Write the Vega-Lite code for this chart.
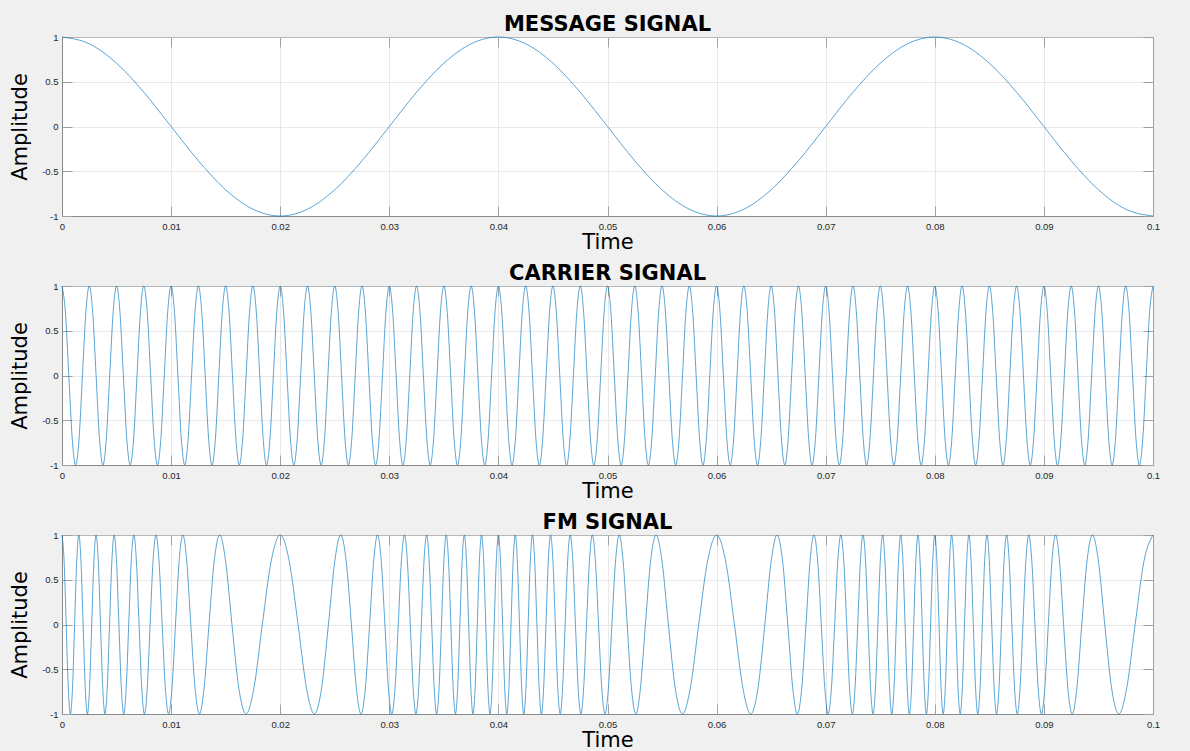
{
"$schema": "https://vega.github.io/schema/vega-lite/v6.json",
"autosize": {"type": "none"},
"padding": {"left": 62, "top": 37, "right": 1128, "bottom": 714},
"background": "#f0f0f0",
"spacing": 70,
"bounds": "flush",
"config": {
  "view": {"stroke": null, "fill": "#ffffff"},
  "axis": {"labelFont": "Liberation Sans", "labelFontSize": 9.5, "labelColor": "#262626", "labelFlush": false, "labelOverlap": false, "labelExpr": "'' + datum.value", "tickSize": -10, "tickColor": "#a0a0a0", "tickWidth": 1, "domainColor": "#8a8a8a", "domainWidth": 1, "gridColor": "#e8e8e8", "gridWidth": 1, "titleFont": "DejaVu Sans", "titleFontSize": 21, "titleFontWeight": "normal", "titleColor": "#000000"},
  "title": {"font": "DejaVu Sans", "fontSize": 21, "fontWeight": "bold", "color": "#000000", "anchor": "middle", "frame": "group", "baseline": "alphabetic", "offset": -2.5}
},
"datasets": {
"message": [
{"t":0,"y":1},{"t":0.0025,"y":0.9239},{"t":0.005,"y":0.7071},{"t":0.0075,"y":0.3827},{"t":0.01,"y":0},{"t":0.0125,"y":-0.3827},{"t":0.015,"y":-0.7071},{"t":0.0175,"y":-0.9239},
{"t":0.02,"y":-1},{"t":0.0225,"y":-0.9239},{"t":0.025,"y":-0.7071},{"t":0.0275,"y":-0.3827},{"t":0.03,"y":0},{"t":0.0325,"y":0.3827},{"t":0.035,"y":0.7071},{"t":0.0375,"y":0.9239},
{"t":0.04,"y":1},{"t":0.0425,"y":0.9239},{"t":0.045,"y":0.7071},{"t":0.0475,"y":0.3827},{"t":0.05,"y":0},{"t":0.0525,"y":-0.3827},{"t":0.055,"y":-0.7071},{"t":0.0575,"y":-0.9239},
{"t":0.06,"y":-1},{"t":0.0625,"y":-0.9239},{"t":0.065,"y":-0.7071},{"t":0.0675,"y":-0.3827},{"t":0.07,"y":0},{"t":0.0725,"y":0.3827},{"t":0.075,"y":0.7071},{"t":0.0775,"y":0.9239},
{"t":0.08,"y":1},{"t":0.0825,"y":0.9239},{"t":0.085,"y":0.7071},{"t":0.0875,"y":0.3827},{"t":0.09,"y":0},{"t":0.0925,"y":-0.3827},{"t":0.095,"y":-0.7071},{"t":0.0975,"y":-0.9239},
{"t":0.1,"y":-1}
],
"carrier": [
{"t":0,"y":1},{"t":0.0003125,"y":0.7071},{"t":0.000625,"y":0},{"t":0.0009375,"y":-0.7071},{"t":0.00125,"y":-1},{"t":0.0015625,"y":-0.7071},{"t":0.001875,"y":0},{"t":0.0021875,"y":0.7071},
{"t":0.0025,"y":1},{"t":0.0028125,"y":0.7071},{"t":0.003125,"y":0},{"t":0.0034375,"y":-0.7071},{"t":0.00375,"y":-1},{"t":0.0040625,"y":-0.7071},{"t":0.004375,"y":0},{"t":0.0046875,"y":0.7071},
{"t":0.005,"y":1},{"t":0.0053125,"y":0.7071},{"t":0.005625,"y":0},{"t":0.0059375,"y":-0.7071},{"t":0.00625,"y":-1},{"t":0.0065625,"y":-0.7071},{"t":0.006875,"y":0},{"t":0.0071875,"y":0.7071},
{"t":0.0075,"y":1},{"t":0.0078125,"y":0.7071},{"t":0.008125,"y":0},{"t":0.0084375,"y":-0.7071},{"t":0.00875,"y":-1},{"t":0.0090625,"y":-0.7071},{"t":0.009375,"y":0},{"t":0.0096875,"y":0.7071},
{"t":0.01,"y":1},{"t":0.0103125,"y":0.7071},{"t":0.010625,"y":0},{"t":0.0109375,"y":-0.7071},{"t":0.01125,"y":-1},{"t":0.0115625,"y":-0.7071},{"t":0.011875,"y":0},{"t":0.0121875,"y":0.7071},
{"t":0.0125,"y":1},{"t":0.0128125,"y":0.7071},{"t":0.013125,"y":0},{"t":0.0134375,"y":-0.7071},{"t":0.01375,"y":-1},{"t":0.0140625,"y":-0.7071},{"t":0.014375,"y":0},{"t":0.0146875,"y":0.7071},
{"t":0.015,"y":1},{"t":0.0153125,"y":0.7071},{"t":0.015625,"y":0},{"t":0.0159375,"y":-0.7071},{"t":0.01625,"y":-1},{"t":0.0165625,"y":-0.7071},{"t":0.016875,"y":0},{"t":0.0171875,"y":0.7071},
{"t":0.0175,"y":1},{"t":0.0178125,"y":0.7071},{"t":0.018125,"y":0},{"t":0.0184375,"y":-0.7071},{"t":0.01875,"y":-1},{"t":0.0190625,"y":-0.7071},{"t":0.019375,"y":0},{"t":0.0196875,"y":0.7071},
{"t":0.02,"y":1},{"t":0.0203125,"y":0.7071},{"t":0.020625,"y":0},{"t":0.0209375,"y":-0.7071},{"t":0.02125,"y":-1},{"t":0.0215625,"y":-0.7071},{"t":0.021875,"y":0},{"t":0.0221875,"y":0.7071},
{"t":0.0225,"y":1},{"t":0.0228125,"y":0.7071},{"t":0.023125,"y":0},{"t":0.0234375,"y":-0.7071},{"t":0.02375,"y":-1},{"t":0.0240625,"y":-0.7071},{"t":0.024375,"y":0},{"t":0.0246875,"y":0.7071},
{"t":0.025,"y":1},{"t":0.0253125,"y":0.7071},{"t":0.025625,"y":0},{"t":0.0259375,"y":-0.7071},{"t":0.02625,"y":-1},{"t":0.0265625,"y":-0.7071},{"t":0.026875,"y":0},{"t":0.0271875,"y":0.7071},
{"t":0.0275,"y":1},{"t":0.0278125,"y":0.7071},{"t":0.028125,"y":0},{"t":0.0284375,"y":-0.7071},{"t":0.02875,"y":-1},{"t":0.0290625,"y":-0.7071},{"t":0.029375,"y":0},{"t":0.0296875,"y":0.7071},
{"t":0.03,"y":1},{"t":0.0303125,"y":0.7071},{"t":0.030625,"y":0},{"t":0.0309375,"y":-0.7071},{"t":0.03125,"y":-1},{"t":0.0315625,"y":-0.7071},{"t":0.031875,"y":0},{"t":0.0321875,"y":0.7071},
{"t":0.0325,"y":1},{"t":0.0328125,"y":0.7071},{"t":0.033125,"y":0},{"t":0.0334375,"y":-0.7071},{"t":0.03375,"y":-1},{"t":0.0340625,"y":-0.7071},{"t":0.034375,"y":0},{"t":0.0346875,"y":0.7071},
{"t":0.035,"y":1},{"t":0.0353125,"y":0.7071},{"t":0.035625,"y":0},{"t":0.0359375,"y":-0.7071},{"t":0.03625,"y":-1},{"t":0.0365625,"y":-0.7071},{"t":0.036875,"y":0},{"t":0.0371875,"y":0.7071},
{"t":0.0375,"y":1},{"t":0.0378125,"y":0.7071},{"t":0.038125,"y":0},{"t":0.0384375,"y":-0.7071},{"t":0.03875,"y":-1},{"t":0.0390625,"y":-0.7071},{"t":0.039375,"y":0},{"t":0.0396875,"y":0.7071},
{"t":0.04,"y":1},{"t":0.0403125,"y":0.7071},{"t":0.040625,"y":0},{"t":0.0409375,"y":-0.7071},{"t":0.04125,"y":-1},{"t":0.0415625,"y":-0.7071},{"t":0.041875,"y":0},{"t":0.0421875,"y":0.7071},
{"t":0.0425,"y":1},{"t":0.0428125,"y":0.7071},{"t":0.043125,"y":0},{"t":0.0434375,"y":-0.7071},{"t":0.04375,"y":-1},{"t":0.0440625,"y":-0.7071},{"t":0.044375,"y":0},{"t":0.0446875,"y":0.7071},
{"t":0.045,"y":1},{"t":0.0453125,"y":0.7071},{"t":0.045625,"y":0},{"t":0.0459375,"y":-0.7071},{"t":0.04625,"y":-1},{"t":0.0465625,"y":-0.7071},{"t":0.046875,"y":0},{"t":0.0471875,"y":0.7071},
{"t":0.0475,"y":1},{"t":0.0478125,"y":0.7071},{"t":0.048125,"y":0},{"t":0.0484375,"y":-0.7071},{"t":0.04875,"y":-1},{"t":0.0490625,"y":-0.7071},{"t":0.049375,"y":0},{"t":0.0496875,"y":0.7071},
{"t":0.05,"y":1},{"t":0.0503125,"y":0.7071},{"t":0.050625,"y":0},{"t":0.0509375,"y":-0.7071},{"t":0.05125,"y":-1},{"t":0.0515625,"y":-0.7071},{"t":0.051875,"y":0},{"t":0.0521875,"y":0.7071},
{"t":0.0525,"y":1},{"t":0.0528125,"y":0.7071},{"t":0.053125,"y":0},{"t":0.0534375,"y":-0.7071},{"t":0.05375,"y":-1},{"t":0.0540625,"y":-0.7071},{"t":0.054375,"y":0},{"t":0.0546875,"y":0.7071},
{"t":0.055,"y":1},{"t":0.0553125,"y":0.7071},{"t":0.055625,"y":0},{"t":0.0559375,"y":-0.7071},{"t":0.05625,"y":-1},{"t":0.0565625,"y":-0.7071},{"t":0.056875,"y":0},{"t":0.0571875,"y":0.7071},
{"t":0.0575,"y":1},{"t":0.0578125,"y":0.7071},{"t":0.058125,"y":0},{"t":0.0584375,"y":-0.7071},{"t":0.05875,"y":-1},{"t":0.0590625,"y":-0.7071},{"t":0.059375,"y":0},{"t":0.0596875,"y":0.7071},
{"t":0.06,"y":1},{"t":0.0603125,"y":0.7071},{"t":0.060625,"y":0},{"t":0.0609375,"y":-0.7071},{"t":0.06125,"y":-1},{"t":0.0615625,"y":-0.7071},{"t":0.061875,"y":0},{"t":0.0621875,"y":0.7071},
{"t":0.0625,"y":1},{"t":0.0628125,"y":0.7071},{"t":0.063125,"y":0},{"t":0.0634375,"y":-0.7071},{"t":0.06375,"y":-1},{"t":0.0640625,"y":-0.7071},{"t":0.064375,"y":0},{"t":0.0646875,"y":0.7071},
{"t":0.065,"y":1},{"t":0.0653125,"y":0.7071},{"t":0.065625,"y":0},{"t":0.0659375,"y":-0.7071},{"t":0.06625,"y":-1},{"t":0.0665625,"y":-0.7071},{"t":0.066875,"y":0},{"t":0.0671875,"y":0.7071},
{"t":0.0675,"y":1},{"t":0.0678125,"y":0.7071},{"t":0.068125,"y":0},{"t":0.0684375,"y":-0.7071},{"t":0.06875,"y":-1},{"t":0.0690625,"y":-0.7071},{"t":0.069375,"y":0},{"t":0.0696875,"y":0.7071},
{"t":0.07,"y":1},{"t":0.0703125,"y":0.7071},{"t":0.070625,"y":0},{"t":0.0709375,"y":-0.7071},{"t":0.07125,"y":-1},{"t":0.0715625,"y":-0.7071},{"t":0.071875,"y":0},{"t":0.0721875,"y":0.7071},
{"t":0.0725,"y":1},{"t":0.0728125,"y":0.7071},{"t":0.073125,"y":0},{"t":0.0734375,"y":-0.7071},{"t":0.07375,"y":-1},{"t":0.0740625,"y":-0.7071},{"t":0.074375,"y":0},{"t":0.0746875,"y":0.7071},
{"t":0.075,"y":1},{"t":0.0753125,"y":0.7071},{"t":0.075625,"y":0},{"t":0.0759375,"y":-0.7071},{"t":0.07625,"y":-1},{"t":0.0765625,"y":-0.7071},{"t":0.076875,"y":0},{"t":0.0771875,"y":0.7071},
{"t":0.0775,"y":1},{"t":0.0778125,"y":0.7071},{"t":0.078125,"y":0},{"t":0.0784375,"y":-0.7071},{"t":0.07875,"y":-1},{"t":0.0790625,"y":-0.7071},{"t":0.079375,"y":0},{"t":0.0796875,"y":0.7071},
{"t":0.08,"y":1},{"t":0.0803125,"y":0.7071},{"t":0.080625,"y":0},{"t":0.0809375,"y":-0.7071},{"t":0.08125,"y":-1},{"t":0.0815625,"y":-0.7071},{"t":0.081875,"y":0},{"t":0.0821875,"y":0.7071},
{"t":0.0825,"y":1},{"t":0.0828125,"y":0.7071},{"t":0.083125,"y":0},{"t":0.0834375,"y":-0.7071},{"t":0.08375,"y":-1},{"t":0.0840625,"y":-0.7071},{"t":0.084375,"y":0},{"t":0.0846875,"y":0.7071},
{"t":0.085,"y":1},{"t":0.0853125,"y":0.7071},{"t":0.085625,"y":0},{"t":0.0859375,"y":-0.7071},{"t":0.08625,"y":-1},{"t":0.0865625,"y":-0.7071},{"t":0.086875,"y":0},{"t":0.0871875,"y":0.7071},
{"t":0.0875,"y":1},{"t":0.0878125,"y":0.7071},{"t":0.088125,"y":0},{"t":0.0884375,"y":-0.7071},{"t":0.08875,"y":-1},{"t":0.0890625,"y":-0.7071},{"t":0.089375,"y":0},{"t":0.0896875,"y":0.7071},
{"t":0.09,"y":1},{"t":0.0903125,"y":0.7071},{"t":0.090625,"y":0},{"t":0.0909375,"y":-0.7071},{"t":0.09125,"y":-1},{"t":0.0915625,"y":-0.7071},{"t":0.091875,"y":0},{"t":0.0921875,"y":0.7071},
{"t":0.0925,"y":1},{"t":0.0928125,"y":0.7071},{"t":0.093125,"y":0},{"t":0.0934375,"y":-0.7071},{"t":0.09375,"y":-1},{"t":0.0940625,"y":-0.7071},{"t":0.094375,"y":0},{"t":0.0946875,"y":0.7071},
{"t":0.095,"y":1},{"t":0.0953125,"y":0.7071},{"t":0.095625,"y":0},{"t":0.0959375,"y":-0.7071},{"t":0.09625,"y":-1},{"t":0.0965625,"y":-0.7071},{"t":0.096875,"y":0},{"t":0.0971875,"y":0.7071},
{"t":0.0975,"y":1},{"t":0.0978125,"y":0.7071},{"t":0.098125,"y":0},{"t":0.0984375,"y":-0.7071},{"t":0.09875,"y":-1},{"t":0.0990625,"y":-0.7071},{"t":0.099375,"y":0},{"t":0.0996875,"y":0.7071},
{"t":0.1,"y":1}
],
"fm": [
{"t":0,"y":1},{"t":0.000192,"y":0.7071},{"t":0.000385,"y":0},{"t":0.000577,"y":-0.7071},{"t":0.00077,"y":-1},{"t":0.000963,"y":-0.7071},{"t":0.001156,"y":0},{"t":0.00135,"y":0.7071},
{"t":0.001544,"y":1},{"t":0.001739,"y":0.7071},{"t":0.001935,"y":0},{"t":0.002131,"y":-0.7071},{"t":0.002328,"y":-1},{"t":0.002525,"y":-0.7071},{"t":0.002724,"y":0},{"t":0.002924,"y":0.7071},
{"t":0.003125,"y":1},{"t":0.003327,"y":0.7071},{"t":0.00353,"y":0},{"t":0.003735,"y":-0.7071},{"t":0.003941,"y":-1},{"t":0.004149,"y":-0.7071},{"t":0.004359,"y":0},{"t":0.00457,"y":0.7071},
{"t":0.004784,"y":1},{"t":0.004999,"y":0.7071},{"t":0.005217,"y":0},{"t":0.005438,"y":-0.7071},{"t":0.00566,"y":-1},{"t":0.005886,"y":-0.7071},{"t":0.006115,"y":0},{"t":0.006346,"y":0.7071},
{"t":0.006581,"y":1},{"t":0.00682,"y":0.7071},{"t":0.007062,"y":0},{"t":0.007309,"y":-0.7071},{"t":0.00756,"y":-1},{"t":0.007816,"y":-0.7071},{"t":0.008076,"y":0},{"t":0.008343,"y":0.7071},
{"t":0.008615,"y":1},{"t":0.008894,"y":0.7071},{"t":0.009179,"y":0},{"t":0.009472,"y":-0.7071},{"t":0.009774,"y":-1},{"t":0.010084,"y":-0.7071},{"t":0.010404,"y":0},{"t":0.010735,"y":0.7071},
{"t":0.011078,"y":1},{"t":0.011434,"y":0.7071},{"t":0.011805,"y":0},{"t":0.012192,"y":-0.7071},{"t":0.012598,"y":-1},{"t":0.013024,"y":-0.7071},{"t":0.013474,"y":0},{"t":0.01395,"y":0.7071},
{"t":0.014457,"y":1},{"t":0.014998,"y":0.7071},{"t":0.015578,"y":0},{"t":0.016202,"y":-0.7071},{"t":0.016874,"y":-1},{"t":0.017595,"y":-0.7071},{"t":0.018363,"y":0},{"t":0.019171,"y":0.7071},
{"t":0.02,"y":1},
{"t":0.020829,"y":0.7071},{"t":0.021637,"y":0},{"t":0.022405,"y":-0.7071},{"t":0.023126,"y":-1},{"t":0.023798,"y":-0.7071},{"t":0.024422,"y":0},{"t":0.025002,"y":0.7071},{"t":0.025543,"y":1},
{"t":0.02605,"y":0.7071},{"t":0.026526,"y":0},{"t":0.026976,"y":-0.7071},{"t":0.027402,"y":-1},{"t":0.027808,"y":-0.7071},{"t":0.028195,"y":0},{"t":0.028566,"y":0.7071},{"t":0.028922,"y":1},
{"t":0.029265,"y":0.7071},{"t":0.029596,"y":0},{"t":0.029916,"y":-0.7071},{"t":0.030226,"y":-1},{"t":0.030528,"y":-0.7071},{"t":0.030821,"y":0},{"t":0.031106,"y":0.7071},{"t":0.031385,"y":1},
{"t":0.031657,"y":0.7071},{"t":0.031924,"y":0},{"t":0.032184,"y":-0.7071},{"t":0.03244,"y":-1},{"t":0.032691,"y":-0.7071},{"t":0.032938,"y":0},{"t":0.03318,"y":0.7071},{"t":0.033419,"y":1},
{"t":0.033654,"y":0.7071},{"t":0.033885,"y":0},{"t":0.034114,"y":-0.7071},{"t":0.03434,"y":-1},{"t":0.034562,"y":-0.7071},{"t":0.034783,"y":0},{"t":0.035001,"y":0.7071},{"t":0.035216,"y":1},
{"t":0.03543,"y":0.7071},{"t":0.035641,"y":0},{"t":0.035851,"y":-0.7071},{"t":0.036059,"y":-1},{"t":0.036265,"y":-0.7071},{"t":0.03647,"y":0},{"t":0.036673,"y":0.7071},{"t":0.036875,"y":1},
{"t":0.037076,"y":0.7071},{"t":0.037276,"y":0},{"t":0.037475,"y":-0.7071},{"t":0.037672,"y":-1},{"t":0.037869,"y":-0.7071},{"t":0.038065,"y":0},{"t":0.038261,"y":0.7071},{"t":0.038456,"y":1},
{"t":0.03865,"y":0.7071},{"t":0.038844,"y":0},{"t":0.039037,"y":-0.7071},{"t":0.03923,"y":-1},{"t":0.039423,"y":-0.7071},{"t":0.039615,"y":0},{"t":0.039808,"y":0.7071},{"t":0.04,"y":1},
{"t":0.040192,"y":0.7071},{"t":0.040385,"y":0},{"t":0.040577,"y":-0.7071},{"t":0.04077,"y":-1},{"t":0.040963,"y":-0.7071},{"t":0.041156,"y":0},{"t":0.04135,"y":0.7071},
{"t":0.041544,"y":1},{"t":0.041739,"y":0.7071},{"t":0.041935,"y":0},{"t":0.042131,"y":-0.7071},{"t":0.042328,"y":-1},{"t":0.042525,"y":-0.7071},{"t":0.042724,"y":0},{"t":0.042924,"y":0.7071},
{"t":0.043125,"y":1},{"t":0.043327,"y":0.7071},{"t":0.04353,"y":0},{"t":0.043735,"y":-0.7071},{"t":0.043941,"y":-1},{"t":0.044149,"y":-0.7071},{"t":0.044359,"y":0},{"t":0.04457,"y":0.7071},
{"t":0.044784,"y":1},{"t":0.044999,"y":0.7071},{"t":0.045217,"y":0},{"t":0.045438,"y":-0.7071},{"t":0.04566,"y":-1},{"t":0.045886,"y":-0.7071},{"t":0.046115,"y":0},{"t":0.046346,"y":0.7071},
{"t":0.046581,"y":1},{"t":0.04682,"y":0.7071},{"t":0.047062,"y":0},{"t":0.047309,"y":-0.7071},{"t":0.04756,"y":-1},{"t":0.047816,"y":-0.7071},{"t":0.048076,"y":0},{"t":0.048343,"y":0.7071},
{"t":0.048615,"y":1},{"t":0.048894,"y":0.7071},{"t":0.049179,"y":0},{"t":0.049472,"y":-0.7071},{"t":0.049774,"y":-1},{"t":0.050084,"y":-0.7071},{"t":0.050404,"y":0},{"t":0.050735,"y":0.7071},
{"t":0.051078,"y":1},{"t":0.051434,"y":0.7071},{"t":0.051805,"y":0},{"t":0.052192,"y":-0.7071},{"t":0.052598,"y":-1},{"t":0.053024,"y":-0.7071},{"t":0.053474,"y":0},{"t":0.05395,"y":0.7071},
{"t":0.054457,"y":1},{"t":0.054998,"y":0.7071},{"t":0.055578,"y":0},{"t":0.056202,"y":-0.7071},{"t":0.056874,"y":-1},{"t":0.057595,"y":-0.7071},{"t":0.058363,"y":0},{"t":0.059171,"y":0.7071},
{"t":0.06,"y":1},
{"t":0.060829,"y":0.7071},{"t":0.061637,"y":0},{"t":0.062405,"y":-0.7071},{"t":0.063126,"y":-1},{"t":0.063798,"y":-0.7071},{"t":0.064422,"y":0},{"t":0.065002,"y":0.7071},{"t":0.065543,"y":1},
{"t":0.06605,"y":0.7071},{"t":0.066526,"y":0},{"t":0.066976,"y":-0.7071},{"t":0.067402,"y":-1},{"t":0.067808,"y":-0.7071},{"t":0.068195,"y":0},{"t":0.068566,"y":0.7071},{"t":0.068922,"y":1},
{"t":0.069265,"y":0.7071},{"t":0.069596,"y":0},{"t":0.069916,"y":-0.7071},{"t":0.070226,"y":-1},{"t":0.070528,"y":-0.7071},{"t":0.070821,"y":0},{"t":0.071106,"y":0.7071},{"t":0.071385,"y":1},
{"t":0.071657,"y":0.7071},{"t":0.071924,"y":0},{"t":0.072184,"y":-0.7071},{"t":0.07244,"y":-1},{"t":0.072691,"y":-0.7071},{"t":0.072938,"y":0},{"t":0.07318,"y":0.7071},{"t":0.073419,"y":1},
{"t":0.073654,"y":0.7071},{"t":0.073885,"y":0},{"t":0.074114,"y":-0.7071},{"t":0.07434,"y":-1},{"t":0.074562,"y":-0.7071},{"t":0.074783,"y":0},{"t":0.075001,"y":0.7071},{"t":0.075216,"y":1},
{"t":0.07543,"y":0.7071},{"t":0.075641,"y":0},{"t":0.075851,"y":-0.7071},{"t":0.076059,"y":-1},{"t":0.076265,"y":-0.7071},{"t":0.07647,"y":0},{"t":0.076673,"y":0.7071},{"t":0.076875,"y":1},
{"t":0.077076,"y":0.7071},{"t":0.077276,"y":0},{"t":0.077475,"y":-0.7071},{"t":0.077672,"y":-1},{"t":0.077869,"y":-0.7071},{"t":0.078065,"y":0},{"t":0.078261,"y":0.7071},{"t":0.078456,"y":1},
{"t":0.07865,"y":0.7071},{"t":0.078844,"y":0},{"t":0.079037,"y":-0.7071},{"t":0.07923,"y":-1},{"t":0.079423,"y":-0.7071},{"t":0.079615,"y":0},{"t":0.079808,"y":0.7071},{"t":0.08,"y":1},
{"t":0.080192,"y":0.7071},{"t":0.080385,"y":0},{"t":0.080577,"y":-0.7071},{"t":0.08077,"y":-1},{"t":0.080963,"y":-0.7071},{"t":0.081156,"y":0},{"t":0.08135,"y":0.7071},
{"t":0.081544,"y":1},{"t":0.081739,"y":0.7071},{"t":0.081935,"y":0},{"t":0.082131,"y":-0.7071},{"t":0.082328,"y":-1},{"t":0.082525,"y":-0.7071},{"t":0.082724,"y":0},{"t":0.082924,"y":0.7071},
{"t":0.083125,"y":1},{"t":0.083327,"y":0.7071},{"t":0.08353,"y":0},{"t":0.083735,"y":-0.7071},{"t":0.083941,"y":-1},{"t":0.084149,"y":-0.7071},{"t":0.084359,"y":0},{"t":0.08457,"y":0.7071},
{"t":0.084784,"y":1},{"t":0.084999,"y":0.7071},{"t":0.085217,"y":0},{"t":0.085438,"y":-0.7071},{"t":0.08566,"y":-1},{"t":0.085886,"y":-0.7071},{"t":0.086115,"y":0},{"t":0.086346,"y":0.7071},
{"t":0.086581,"y":1},{"t":0.08682,"y":0.7071},{"t":0.087062,"y":0},{"t":0.087309,"y":-0.7071},{"t":0.08756,"y":-1},{"t":0.087816,"y":-0.7071},{"t":0.088076,"y":0},{"t":0.088343,"y":0.7071},
{"t":0.088615,"y":1},{"t":0.088894,"y":0.7071},{"t":0.089179,"y":0},{"t":0.089472,"y":-0.7071},{"t":0.089774,"y":-1},{"t":0.090084,"y":-0.7071},{"t":0.090404,"y":0},{"t":0.090735,"y":0.7071},
{"t":0.091078,"y":1},{"t":0.091434,"y":0.7071},{"t":0.091805,"y":0},{"t":0.092192,"y":-0.7071},{"t":0.092598,"y":-1},{"t":0.093024,"y":-0.7071},{"t":0.093474,"y":0},{"t":0.09395,"y":0.7071},
{"t":0.094457,"y":1},{"t":0.094998,"y":0.7071},{"t":0.095578,"y":0},{"t":0.096202,"y":-0.7071},{"t":0.096874,"y":-1},{"t":0.097595,"y":-0.7071},{"t":0.098363,"y":0},{"t":0.099171,"y":0.7071},
{"t":0.1,"y":1}
]
},
"vconcat": [
{
  "width": 1091, "height": 179,
  "title": {"text": "MESSAGE SIGNAL"},
  "data": {"name": "message"},
  "layer": [
    {"mark": {"type": "line", "color": "#0072BD", "strokeWidth": 0.65, "interpolate": "monotone"},
     "encoding": {
       "x": {"field": "t", "type": "quantitative", "scale": {"domain": [0, 0.1], "nice": false, "zero": false},
             "axis": {"orient": "bottom", "values": [0,0.01,0.02,0.03,0.04,0.05,0.06,0.07,0.08,0.09,0.1], "grid": true, "labelBaseline": "alphabetic", "labelPadding": 23.5, "title": "Time", "titleY": 32.5, "titleBaseline": "alphabetic"}},
       "y": {"field": "y", "type": "quantitative", "scale": {"domain": [-1, 1], "nice": false, "zero": false},
             "axis": {"orient": "left", "values": [-1,-0.5,0,0.5,1], "grid": true, "labelBaseline": "middle", "labelAlign": "right", "labelPadding": 14, "title": "Amplitude", "titleX": -36, "titleY": 89.5, "titleAngle": 270, "titleAlign": "center", "titleBaseline": "alphabetic"}}
     }},
    {"mark": {"type": "line", "opacity": 0},
     "encoding": {
       "x": {"field": "t", "type": "quantitative", "scale": {"domain": [0, 0.1], "nice": false, "zero": false},
             "axis": {"orient": "top", "values": [0,0.01,0.02,0.03,0.04,0.05,0.06,0.07,0.08,0.09,0.1], "grid": false, "labels": false, "title": null, "domainColor": "#b8b8b8"}},
       "y": {"field": "y", "type": "quantitative", "scale": {"domain": [-1, 1], "nice": false, "zero": false},
             "axis": {"orient": "right", "values": [-1,-0.5,0,0.5,1], "grid": false, "labels": false, "title": null, "domainColor": "#a0a0a0"}}
     }}
  ]
},
{
  "width": 1091, "height": 179,
  "title": {"text": "CARRIER SIGNAL"},
  "data": {"name": "carrier"},
  "layer": [
    {"mark": {"type": "line", "color": "#0072BD", "strokeWidth": 0.65, "interpolate": "monotone"},
     "encoding": {
       "x": {"field": "t", "type": "quantitative", "scale": {"domain": [0, 0.1], "nice": false, "zero": false},
             "axis": {"orient": "bottom", "values": [0,0.01,0.02,0.03,0.04,0.05,0.06,0.07,0.08,0.09,0.1], "grid": true, "labelBaseline": "alphabetic", "labelPadding": 23.5, "title": "Time", "titleY": 32.5, "titleBaseline": "alphabetic"}},
       "y": {"field": "y", "type": "quantitative", "scale": {"domain": [-1, 1], "nice": false, "zero": false},
             "axis": {"orient": "left", "values": [-1,-0.5,0,0.5,1], "grid": true, "labelBaseline": "middle", "labelAlign": "right", "labelPadding": 14, "title": "Amplitude", "titleX": -36, "titleY": 89.5, "titleAngle": 270, "titleAlign": "center", "titleBaseline": "alphabetic"}}
     }},
    {"mark": {"type": "line", "opacity": 0},
     "encoding": {
       "x": {"field": "t", "type": "quantitative", "scale": {"domain": [0, 0.1], "nice": false, "zero": false},
             "axis": {"orient": "top", "values": [0,0.01,0.02,0.03,0.04,0.05,0.06,0.07,0.08,0.09,0.1], "grid": false, "labels": false, "title": null, "domainColor": "#b8b8b8"}},
       "y": {"field": "y", "type": "quantitative", "scale": {"domain": [-1, 1], "nice": false, "zero": false},
             "axis": {"orient": "right", "values": [-1,-0.5,0,0.5,1], "grid": false, "labels": false, "title": null, "domainColor": "#a0a0a0"}}
     }}
  ]
},
{
  "width": 1091, "height": 179,
  "title": {"text": "FM SIGNAL"},
  "data": {"name": "fm"},
  "layer": [
    {"mark": {"type": "line", "color": "#0072BD", "strokeWidth": 0.65, "interpolate": "monotone"},
     "encoding": {
       "x": {"field": "t", "type": "quantitative", "scale": {"domain": [0, 0.1], "nice": false, "zero": false},
             "axis": {"orient": "bottom", "values": [0,0.01,0.02,0.03,0.04,0.05,0.06,0.07,0.08,0.09,0.1], "grid": true, "labelBaseline": "alphabetic", "labelPadding": 23.5, "title": "Time", "titleY": 32.5, "titleBaseline": "alphabetic"}},
       "y": {"field": "y", "type": "quantitative", "scale": {"domain": [-1, 1], "nice": false, "zero": false},
             "axis": {"orient": "left", "values": [-1,-0.5,0,0.5,1], "grid": true, "labelBaseline": "middle", "labelAlign": "right", "labelPadding": 14, "title": "Amplitude", "titleX": -36, "titleY": 89.5, "titleAngle": 270, "titleAlign": "center", "titleBaseline": "alphabetic"}}
     }},
    {"mark": {"type": "line", "opacity": 0},
     "encoding": {
       "x": {"field": "t", "type": "quantitative", "scale": {"domain": [0, 0.1], "nice": false, "zero": false},
             "axis": {"orient": "top", "values": [0,0.01,0.02,0.03,0.04,0.05,0.06,0.07,0.08,0.09,0.1], "grid": false, "labels": false, "title": null, "domainColor": "#b8b8b8"}},
       "y": {"field": "y", "type": "quantitative", "scale": {"domain": [-1, 1], "nice": false, "zero": false},
             "axis": {"orient": "right", "values": [-1,-0.5,0,0.5,1], "grid": false, "labels": false, "title": null, "domainColor": "#a0a0a0"}}
     }}
  ]
}
]
}
